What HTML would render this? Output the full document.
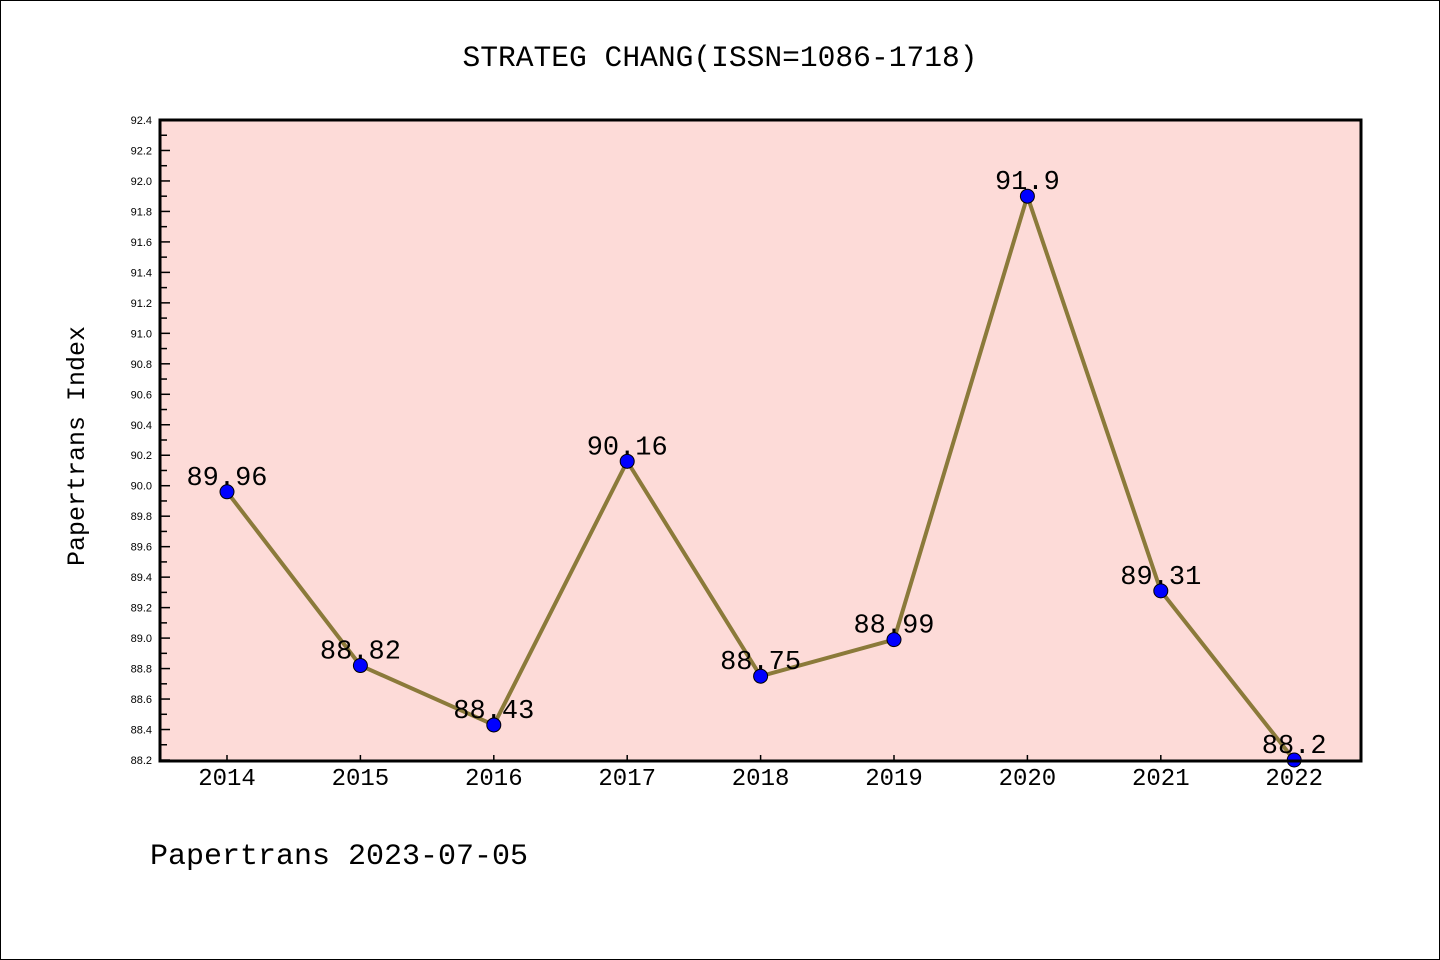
<!DOCTYPE html>
<html><head><meta charset="utf-8"><style>
html,body{margin:0;padding:0;background:#fff}
svg{display:block;font-family:"Liberation Sans","DejaVu Sans",sans-serif}
</style></head><body>
<svg id="chart" width="1440" height="960" viewBox="0 0 1440 960">
<rect x="0.5" y="0.5" width="1439" height="959" fill="#fff" stroke="#000"/>
<text x="720" y="66" text-anchor="middle" font-size="29.6" font-family="'Liberation Mono',monospace">STRATEG CHANG(ISSN=1086-1718)</text>
<rect x="160" y="120" width="1201" height="641" fill="#fddbd8"/>
<g id="axes"></g>
<g id="series"></g>
<rect x="160" y="120" width="1201" height="641" fill="none" stroke="#000" stroke-width="3"/>
<text transform="translate(84,446) rotate(-90)" text-anchor="middle" font-size="25" font-family="'Liberation Mono',monospace">Papertrans Index</text>
<text x="150" y="864" font-size="30" font-family="'Liberation Mono',monospace">Papertrans 2023-07-05</text>
</svg>
<script>
const years = ["2014","2015","2016","2017","2018","2019","2020","2021","2022"];
const values = [89.96,88.82,88.43,90.16,88.75,88.99,91.9,89.31,88.2];
const labels = ["89.96","88.82","88.43","90.16","88.75","88.99","91.9","89.31","88.2"];
const yTicks = [88.2,88.4,88.6,88.8,89.0,89.2,89.4,89.6,89.8,90.0,90.2,90.4,90.6,90.8,91.0,91.2,91.4,91.6,91.8,92.0,92.2,92.4];
const yMin=88.2,yMax=92.4;
const NS="http://www.w3.org/2000/svg";
function y(v){return 760-(v-yMin)/(yMax-yMin)*640;}
function x(i){return 227+i*133.4;}
const axes=document.getElementById('axes'),series=document.getElementById('series');
function mk(t,a,p){const e=document.createElementNS(NS,t);for(const k in a)e.setAttribute(k,a[k]);p.appendChild(e);return e;}
yTicks.forEach((v,i)=>{
  const yy=y(v);
  const t=mk('line',{x1:160,x2:170,y1:yy,y2:yy,stroke:'#000','stroke-width':1.5},axes);
  
  
  if(i<yTicks.length-1){const m=y(v+0.1);const mt=mk('line',{x1:160,x2:167,y1:m,y2:m,stroke:'#000','stroke-width':1.5},axes);
  
  }
  const l=mk('text',{x:152,y:yy+4,'text-anchor':'end','font-size':11},axes);l.textContent=v.toFixed(1);
  
  
});
years.forEach((yr,i)=>{
  const xx=x(i);
  const t=mk('line',{x1:xx,x2:xx,y1:761,y2:755,stroke:'#000','stroke-width':1.5},axes);
  
  
  const l=mk('text',{x:xx,y:785,'text-anchor':'middle','font-size':24,'font-family':"'Liberation Mono',monospace"},axes);l.textContent=yr;
  
  
});
const pl=mk('polyline',{points:values.map((v,i)=>x(i)+','+y(v)).join(' '),fill:'none',stroke:'#8b7a3a','stroke-width':4},series);


values.forEach((v,i)=>{
  const c=mk('circle',{cx:x(i),cy:y(v),r:7,fill:'#0000ff',stroke:'#000','stroke-width':1},series);
  
  
  const l=mk('text',{x:x(i),y:y(v)-7,'text-anchor':'middle','font-size':27,'font-family':"'Liberation Mono',monospace"},series);l.textContent=labels[i];
  
  
});
</script>
</body></html>
